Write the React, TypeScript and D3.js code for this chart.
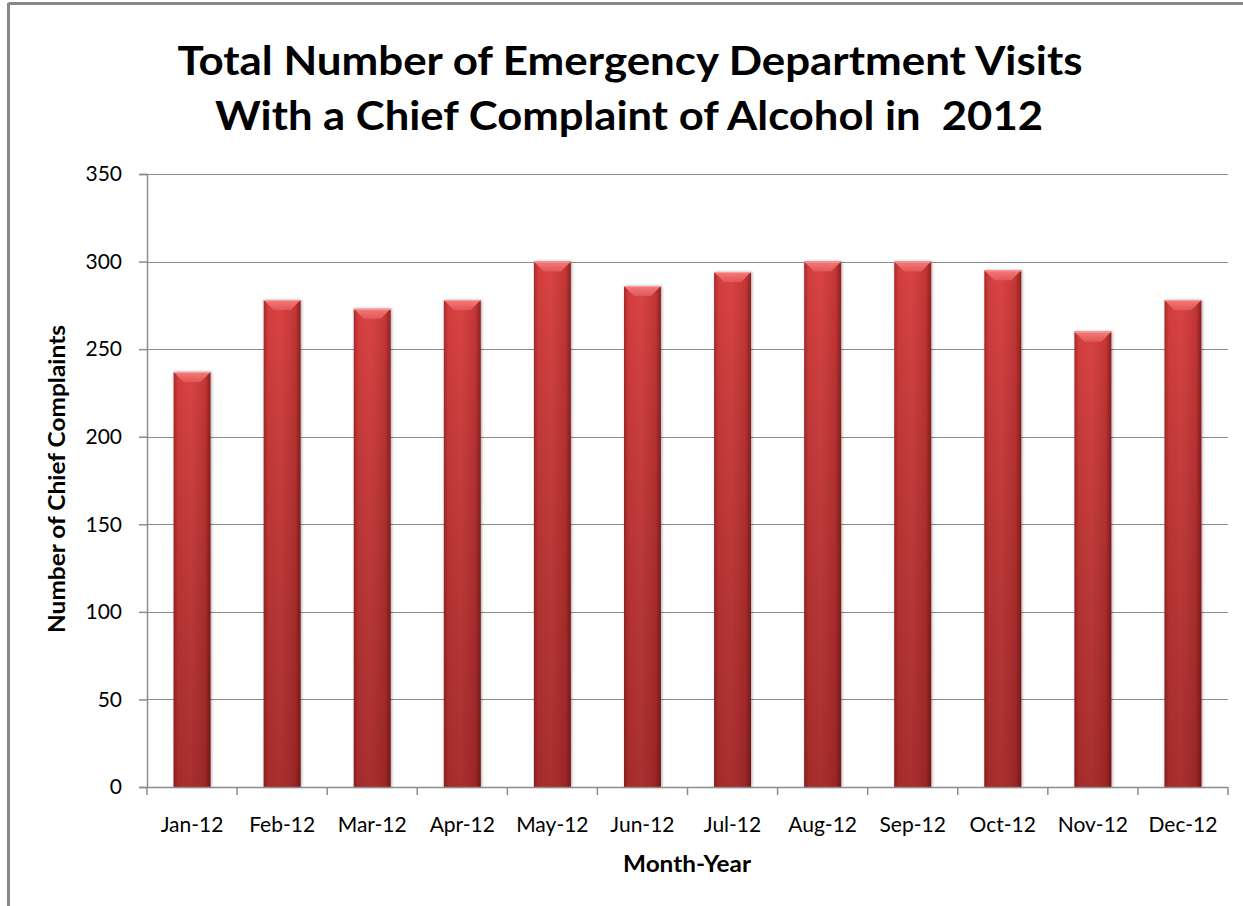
import React, { useEffect, useRef } from 'react';
import * as d3 from 'd3';

const months = ['Jan-12', 'Feb-12', 'Mar-12', 'Apr-12', 'May-12', 'Jun-12', 'Jul-12', 'Aug-12', 'Sep-12', 'Oct-12', 'Nov-12', 'Dec-12'];
const visits = [237, 278, 273, 278, 300, 286, 294, 300, 300, 295, 260, 278];
const yTicks = [0, 50, 100, 150, 200, 250, 300, 350];
const titleLines = ['Total Number of Emergency Department Visits', 'With a Chief Complaint of Alcohol in  2012'];

const W = 1243;
const H = 906;
const font = 'Lato, "Open Sans", sans-serif';

const App: React.FC = () => {
  const svgRef = useRef<SVGSVGElement | null>(null);

  useEffect(() => {
    const svgEl = svgRef.current;
    if (!svgEl) return;
    const svg = d3.select(svgEl);
    svg.selectAll('*').remove();

    const margin = { top: 174, right: 15, bottom: 119, left: 147 };
    const innerWidth = W - margin.left - margin.right;
    const innerHeight = H - margin.top - margin.bottom;

    const x = d3.scaleBand().domain(months).range([0, innerWidth]).paddingInner(0.59).paddingOuter(0.295);
    const y = d3.scaleLinear().domain([0, 350]).range([innerHeight, 0]);

    // gradients for the glossy bars
    const defs = svg.append('defs');
    const hg = defs.append('linearGradient').attr('id', 'barH').attr('x1', 0).attr('x2', 1).attr('y1', 0).attr('y2', 0);
    hg.append('stop').attr('offset', '0%').attr('stop-color', '#a72a2a');
    hg.append('stop').attr('offset', '12%').attr('stop-color', '#d33d3d');
    hg.append('stop').attr('offset', '45%').attr('stop-color', '#d94444');
    hg.append('stop').attr('offset', '85%').attr('stop-color', '#c43636');
    hg.append('stop').attr('offset', '100%').attr('stop-color', '#8e2020');
    const vg = defs.append('linearGradient').attr('id', 'barV').attr('x1', 0).attr('x2', 0).attr('y1', 0).attr('y2', 1);
    vg.append('stop').attr('offset', '0%').attr('stop-color', '#000').attr('stop-opacity', 0);
    vg.append('stop').attr('offset', '100%').attr('stop-color', '#3a0000').attr('stop-opacity', 0.3);
    const tg = defs.append('linearGradient').attr('id', 'barTop').attr('x1', 0).attr('x2', 0).attr('y1', 0).attr('y2', 1);
    tg.append('stop').attr('offset', '0%').attr('stop-color', '#f47a7a');
    tg.append('stop').attr('offset', '100%').attr('stop-color', '#e25656');
    const shadow = defs.append('filter').attr('id', 'shadow').attr('x', '-20%').attr('y', '-5%').attr('width', '140%').attr('height', '110%');
    shadow.append('feDropShadow').attr('dx', 1).attr('dy', 0).attr('stdDeviation', 1.5).attr('flood-color', '#000').attr('flood-opacity', 0.35);

    // outer frame
    svg.append('line').attr('x1', 8.5).attr('x2', W).attr('y1', 3.5).attr('y2', 3.5).attr('stroke', '#888').attr('stroke-width', 3);
    svg.append('line').attr('x1', 8.5).attr('x2', 8.5).attr('y1', 3).attr('y2', H).attr('stroke', '#888').attr('stroke-width', 3);

    // title (the reference font is wider, so stretch to its measured widths)
    const titleWidths = [905, 828];
    const titleCenters = [630, 629];
    const titleBaselines = [75, 130];
    titleLines.forEach((t, i) => {
      svg.append('text')
        .attr('x', titleCenters[i] - titleWidths[i] / 2)
        .attr('y', titleBaselines[i])
        .attr('font-family', font)
        .attr('font-weight', 'bold')
        .attr('font-size', 40)
        .attr('fill', '#000')
        .attr('textLength', titleWidths[i])
        .attr('lengthAdjust', 'spacingAndGlyphs')
        .style('white-space', 'pre')
        .text(t);
    });

    const g = svg.append('g').attr('transform', `translate(${margin.left},${margin.top})`);

    // gridlines
    g.append('g')
      .selectAll('line')
      .data(yTicks.filter((d) => d > 0))
      .join('line')
      .attr('x1', 0)
      .attr('x2', innerWidth)
      .attr('y1', (d) => Math.round(y(d)) + 0.5)
      .attr('y2', (d) => Math.round(y(d)) + 0.5)
      .attr('stroke', '#8c8c8c')
      .attr('stroke-width', 1.2);

    // y axis
    g.append('g')
      .call(d3.axisLeft(y).tickValues(yTicks).tickSize(8).tickPadding(17))
      .call((a) => a.selectAll('path,line').attr('stroke', '#8c8c8c').attr('stroke-width', 1.5))
      .call((a) => a.selectAll('text').attr('font-family', font).attr('font-size', 21).attr('fill', '#000'));

    // bars
    const bars = g.append('g');
    const bw = x.bandwidth();
    const bevel = 10;
    months.forEach((m, i) => {
      const bx = x(m)!;
      const by = y(visits[i]);
      const bh = innerHeight - by;
      const bg = bars.append('g');
      bg.append('rect').attr('x', bx).attr('y', by).attr('width', bw).attr('height', bh).attr('fill', 'url(#barH)').attr('filter', 'url(#shadow)');
      bg.append('rect').attr('x', bx).attr('y', by).attr('width', bw).attr('height', bh).attr('fill', 'url(#barV)');
      bg.append('polygon')
        .attr('points', `${bx},${by} ${bx + bw},${by} ${bx + bw - bevel},${by + bevel} ${bx + bevel},${by + bevel}`)
        .attr('fill', 'url(#barTop)');
      bg.append('line').attr('x1', bx).attr('x2', bx + bw).attr('y1', by + 0.5).attr('y2', by + 0.5).attr('stroke', '#f9a0a0').attr('stroke-width', 1);
    });

    // x axis
    const xAxisG = g.append('g').attr('transform', `translate(0,${innerHeight})`);
    xAxisG.append('line').attr('x1', 0).attr('x2', innerWidth).attr('y1', 0.5).attr('y2', 0.5).attr('stroke', '#8c8c8c').attr('stroke-width', 1.5);
    xAxisG.selectAll('line.tick')
      .data(d3.range(months.length + 1))
      .join('line')
      .attr('class', 'tick')
      .attr('x1', (i) => (i * innerWidth) / months.length)
      .attr('x2', (i) => (i * innerWidth) / months.length)
      .attr('y1', 0)
      .attr('y2', 8)
      .attr('stroke', '#8c8c8c')
      .attr('stroke-width', 1.5);
    xAxisG.selectAll('text')
      .data(months)
      .join('text')
      .attr('x', (m) => x(m)! + bw / 2)
      .attr('y', 45)
      .attr('text-anchor', 'middle')
      .attr('font-family', font)
      .attr('font-size', 21)
      .attr('fill', '#000')
      .text((m) => m);

    // axis labels
    svg.append('text')
      .attr('x', 687 - 64)
      .attr('y', 872)
      .attr('font-family', font)
      .attr('font-weight', 'bold')
      .attr('font-size', 22)
      .attr('textLength', 128)
      .attr('lengthAdjust', 'spacingAndGlyphs')
      .text('Month-Year');

    svg.append('text')
      .attr('transform', `translate(65,${479 + 154}) rotate(-90)`)
      .attr('font-family', font)
      .attr('font-weight', 'bold')
      .attr('font-size', 23)
      .attr('textLength', 308)
      .attr('lengthAdjust', 'spacingAndGlyphs')
      .text('Number of Chief Complaints');
  }, []);

  return (
    <svg ref={svgRef} width={W} height={H} style={{ position: 'absolute', left: 0, top: 0, background: '#fff' }} />
  );
};

export default App;
